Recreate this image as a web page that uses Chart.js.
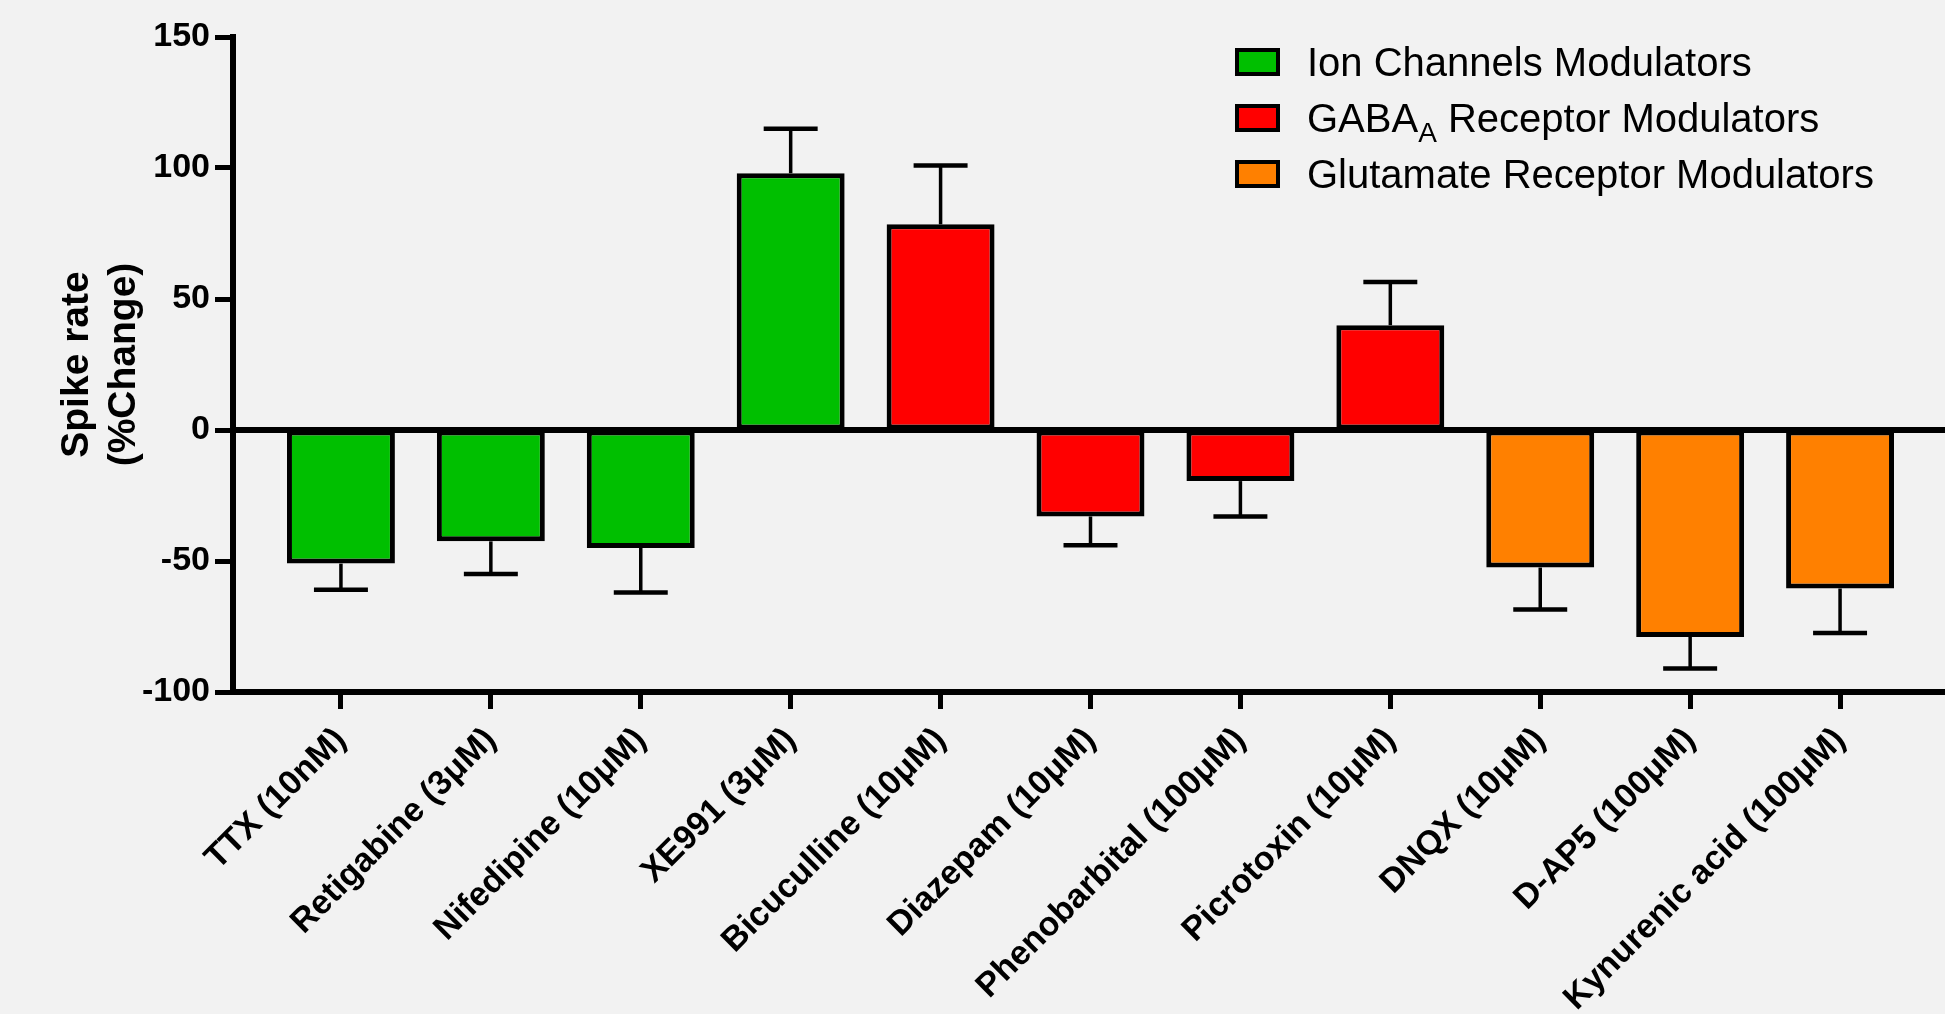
<!DOCTYPE html>
<html>
<head>
<meta charset="utf-8">
<script src="https://cdn.jsdelivr.net/npm/chart.js@4.4.1/dist/chart.umd.min.js"></script>
<style>
    html, body { margin: 0; padding: 0; background: #f2f2f2; overflow: hidden; }
    #wrap { position: relative; width: 1945px; height: 1014px; }
    #leyenda { position: absolute; left: 1235px; top: 34px; font-family: "Liberation Sans", Arial, sans-serif; font-size: 40px; color: #000; }
    .item { display: flex; align-items: center; height: 56px; }
    .caja { width: 45px; height: 28px; box-sizing: border-box; border: 4px solid #000; margin-right: 27px; }
    .item sub { font-size: 28px; vertical-align: -10px; line-height: 0; }
</style>
</head>
<body>
<div id="wrap">
    <canvas id="grafico" width="1945" height="1014"></canvas>
    <div id="leyenda"></div>
</div>
<script>
const drugs = ["TTX (10nM)", "Retigabine (3μM)", "Nifedipine (10μM)", "XE991 (3μM)", "Bicuculline (10μM)",
    "Diazepam (10μM)", "Phenobarbital (100μM)", "Picrotoxin (10μM)", "DNQX (10μM)", "D-AP5 (100μM)",
    "Kynurenic acid (100μM)"];
const means = [-51, -42.5, -45, 98, 78.5, -33, -19.5, 40, -52.5, -79, -60.5];
const sems = [10, 12.5, 17, 17, 22.5, 11, 13.5, 16.5, 16, 12, 17];
const drugGroup = [0, 0, 0, 0, 1, 1, 1, 1, 2, 2, 2];
const groups = ["Ion Channels Modulators", "GABA<sub>A</sub> Receptor Modulators", "Glutamate Receptor Modulators"];
const groupColors = ["#00bf00", "#ff0000", "#ff8000"];
const yTicks = [-100, -50, 0, 50, 100, 150];

document.addEventListener("DOMContentLoaded", () => {
    const grafico = document.getElementById("grafico");
    const leyenda = document.getElementById("leyenda");
    const fontFam = "'Liberation Sans', Arial, sans-serif";

    const datasets = groups.map((g, gi) => ({
        label: g.replace(/<[^>]+>/g, ""),
        data: drugs.map((d, i) => ({ x: i, y: means[i] })).filter((p) => drugGroup[p.x] === gi),
        backgroundColor: groupColors[gi],
        borderColor: "#000",
        borderWidth: 5,
        borderSkipped: false,
        grouped: false
    }));

    // error bars + zero line on top of the bars
    const extras = {
        id: "extras",
        afterDatasetsDraw(chart) {
            const ctx = chart.ctx;
            const y = chart.scales.y;
            const area = chart.chartArea;
            ctx.save();
            ctx.strokeStyle = "#000";
            chart.data.datasets.forEach((ds, di) => {
                const meta = chart.getDatasetMeta(di);
                meta.data.forEach((bar, j) => {
                    const i = ds.data[j].x;
                    const dir = means[i] >= 0 ? 1 : -1;
                    const yEnd = y.getPixelForValue(means[i] + dir * sems[i]);
                    const half = bar.width / 4;
                    ctx.lineWidth = 3.5;
                    ctx.beginPath();
                    ctx.moveTo(bar.x, bar.y);
                    ctx.lineTo(bar.x, yEnd);
                    ctx.stroke();
                    ctx.lineWidth = 4.5;
                    ctx.beginPath();
                    ctx.moveTo(bar.x - half, yEnd);
                    ctx.lineTo(bar.x + half, yEnd);
                    ctx.stroke();
                });
            });
            const y0 = y.getPixelForValue(0);
            ctx.lineWidth = 6;
            ctx.beginPath();
            ctx.moveTo(area.left, y0);
            ctx.lineTo(area.right, y0);
            ctx.stroke();
            ctx.restore();
        }
    };

    new Chart(grafico, {
        type: "bar",
        data: { datasets },
        plugins: [extras],
        options: {
            responsive: false,
            animation: false,
            devicePixelRatio: 1,
            layout: { padding: { top: 37, left: 0, right: 0, bottom: 0 } },
            plugins: { legend: { display: false }, tooltip: { enabled: false } },
            scales: {
                x: {
                    type: "linear",
                    offset: false,
                    min: -0.72,
                    max: 10.7,
                    afterFit: (scale) => { scale.height = 322; },
                    afterBuildTicks: (scale) => { scale.ticks = drugs.map((d, i) => ({ value: i })); },
                    grid: { offset: false, drawOnChartArea: false, tickLength: 17, tickWidth: 5, tickColor: "#000" },
                    border: { display: true, color: "#000", width: 6 },
                    ticks: {
                        autoSkip: false,
                        minRotation: 45,
                        maxRotation: 45,
                        padding: 11,
                        color: "#000",
                        font: { family: fontFam, size: 34, weight: "bold" },
                        callback: (v) => drugs[v]
                    }
                },
                y: {
                    min: -100,
                    max: 150,
                    afterFit: (scale) => { scale.width = 233; },
                    afterBuildTicks: (scale) => { scale.ticks = yTicks.map((v) => ({ value: v })); },
                    grid: { drawOnChartArea: false, tickLength: 18, tickWidth: 5, tickColor: "#000" },
                    border: { display: true, color: "#000", width: 6 },
                    ticks: {
                        padding: 5,
                        color: "#000",
                        font: { family: fontFam, size: 34, weight: "bold" }
                    },
                    title: {
                        display: true,
                        text: ["Spike rate", "(%Change)"],
                        color: "#000",
                        padding: { top: 54, bottom: 0 },
                        font: { family: fontFam, size: 39, weight: "bold", lineHeight: 1.2 }
                    }
                }
            }
        }
    });

    leyenda.innerHTML = groups.map((g, gi) =>
        `<div class="item"><div class="caja" style="background:${groupColors[gi]}"></div><span>${g}</span></div>`
    ).join("");
});
</script>
</body>
</html>
